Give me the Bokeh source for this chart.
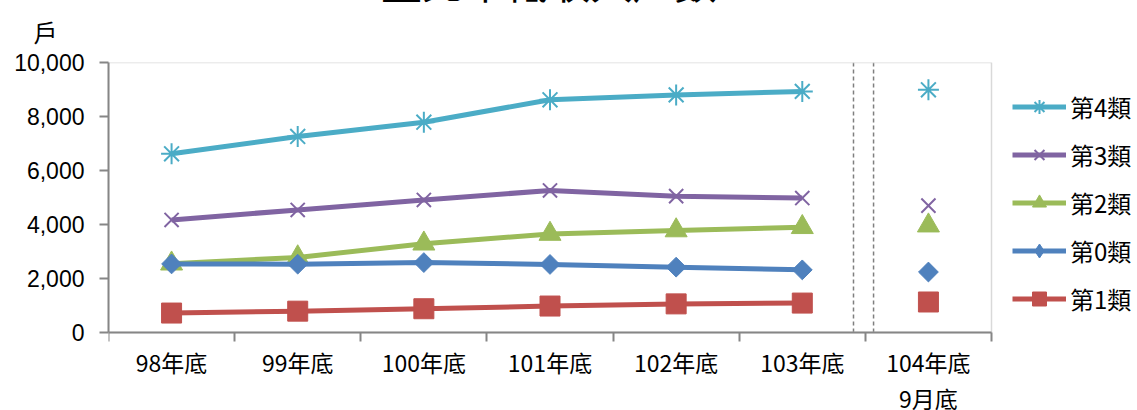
from bokeh.plotting import figure
from bokeh.models import (ColumnDataSource, FixedTicker, NumeralTickFormatter,
                          Legend, LegendItem, Range1d, Title, BoxAnnotation)
from bokeh.embed import file_html
from bokeh.resources import INLINE

# ---- data ----
categories = ["98年底", "99年底", "100年底", "101年底", "102年底", "103年底", "104年底\n9月底"]
series_names = ["第4類", "第3類", "第2類", "第0類", "第1類"]
c4 = [6620, 7260, 7790, 8620, 8800, 8930, 8990]
c3 = [4170, 4540, 4910, 5260, 5050, 4980, 4700]
c2 = [2550, 2780, 3290, 3650, 3780, 3900, 3960]
c0 = [2540, 2530, 2590, 2520, 2420, 2320, 2240]
c1 = [720, 790, 880, 980, 1060, 1090, 1130]
y_ticks = [0, 2000, 4000, 6000, 8000, 10000]
title_text = "臺北市低收入戶數"
unit_text = "戶"

CJK = "Noto Sans CJK TC"
W, H = 1137, 410
LEFT = 108          # left border (y axis)
PLOT_W = 883        # width of the boxed plot area
PLOT_H = 270        # height of the boxed plot area
BOTTOM = 78         # room under the plot area for the category labels
EXTRA_TOP = 40      # room above the visible picture, where the (cut-off) title sits
Y_MAX = 10000
n_cat = len(categories)
SEPARATORS = [5.906, 6.065]   # dashed lines between yearly and monthly data

xs = [i + 0.5 for i in range(n_cat)]
n_line = 6  # the last point (104年9月底) is shown without a connecting line

# the frame also spans the legend area (right) and the label area (below);
# the boxed plot area is x in [0, 7], y in [0, 10000]
x_end = n_cat * (W - LEFT) / PLOT_W
y_start = -Y_MAX * BOTTOM / PLOT_H
p = figure(width=W, height=H + EXTRA_TOP, x_range=Range1d(0, x_end),
           y_range=Range1d(y_start, Y_MAX),
           output_backend="svg", toolbar_location=None,
           min_border_left=LEFT, min_border_right=0,
           min_border_top=62 + EXTRA_TOP, min_border_bottom=0,
           background_fill_color="white", border_fill_color="white")
p.margin = (-EXTRA_TOP, 0, 0, 0)
p.outline_line_color = None
p.xgrid.visible = False
p.ygrid.visible = False

# light grey box around the plot area
p.add_layout(BoxAnnotation(left=0, right=n_cat, bottom=0, top=Y_MAX, fill_alpha=0,
                           line_color="#d9d9d9", line_alpha=1.0, line_width=1.5,
                           level="underlay"))
# dashed separators spanning the plot area height
p.segment(x0=SEPARATORS, y0=[0] * len(SEPARATORS), x1=SEPARATORS,
          y1=[Y_MAX] * len(SEPARATORS), line_color="#7f7f7f", line_width=1.5,
          line_dash="4 3", level="underlay")

# x axis (drawn at y=0, limited to the plot area)
p.xaxis.fixed_location = 0
p.xaxis.bounds = (0, n_cat)
p.xaxis.ticker = FixedTicker(ticks=xs, minor_ticks=list(range(0, n_cat + 1)))
p.xaxis.major_label_overrides = {x: c for x, c in zip(xs, categories)}
p.xaxis.major_tick_line_color = None
p.xaxis.major_tick_out = 0
p.xaxis.major_tick_in = 0
p.xaxis.minor_tick_out = 9
p.xaxis.minor_tick_in = 0
p.xaxis.minor_tick_line_color = "#868686"
p.xaxis.minor_tick_line_width = 2
p.xaxis.axis_line_color = "#868686"
p.xaxis.axis_line_width = 2
p.xaxis.major_label_text_font = CJK
p.xaxis.major_label_text_font_size = "23px"
p.xaxis.major_label_text_line_height = 1.08
p.xaxis.major_label_text_color = "#000000"
p.xaxis.major_label_standoff = 3

# y axis
p.yaxis.bounds = (0, Y_MAX)
p.yaxis.ticker = FixedTicker(ticks=y_ticks)
p.yaxis.formatter = NumeralTickFormatter(format="0,0")
p.yaxis.minor_tick_line_color = None
p.yaxis.major_tick_out = 9
p.yaxis.major_tick_in = 0
p.yaxis.major_tick_line_color = "#868686"
p.yaxis.major_tick_line_width = 2
p.yaxis.axis_line_color = "#868686"
p.yaxis.axis_line_width = 2
p.yaxis.major_label_text_font = "Liberation Sans"
p.yaxis.major_label_text_font_size = "23px"
p.yaxis.major_label_text_color = "#000000"
p.yaxis.major_label_standoff = 15

colors = ["#4BACC6", "#8064A2", "#9BBB59", "#4F81BD", "#C0504D"]
values = [c4, c3, c2, c0, c1]
items = []
for name, col, vals in zip(series_names, colors, values):
    src = ColumnDataSource(dict(x=xs, y=vals))
    line_src = ColumnDataSource(dict(x=xs[:n_line], y=vals[:n_line]))
    ln = p.line("x", "y", source=line_src, line_color=col, line_width=5, line_join="round")
    if name == "第4類":
        sc = p.scatter("x", "y", source=src, marker="asterisk", size=21,
                       line_color=col, line_width=2)
        leg = [ln, sc]
    elif name == "第3類":
        sc = p.scatter("x", "y", source=src, marker="x", size=20,
                       line_color=col, line_width=2)
        leg = [ln, sc]
    elif name == "第2類":
        sc = p.scatter("x", "y", source=src, marker="triangle", size=22,
                       line_color=col, fill_color=col, line_width=1)
        leg = [ln, sc]
    elif name == "第0類":
        sc = p.scatter("x", "y", source=src, marker="square", size=14, angle=0.7853981634,
                       line_color=col, fill_color=col, line_width=1)
        # legends draw markers unrotated, so the legend key uses a (hidden) diamond marker
        key = p.scatter("x", "y", source=src, marker="diamond", size=22,
                        line_color=col, fill_color=col, line_width=1, visible=False)
        leg = [ln, key]
    else:
        sc = p.scatter("x", "y", source=src, marker="square", size=20,
                       line_color=col, fill_color=col, line_width=1)
        leg = [ln, sc]
    items.append(LegendItem(label=name, renderers=leg))

legend = Legend(items=items, location=(904, 16 + BOTTOM), orientation="vertical",
                glyph_width=54, glyph_height=35, label_height=35, spacing=13,
                label_standoff=4, padding=0, margin=0,
                border_line_color=None, background_fill_alpha=0,
                inactive_fill_alpha=0,
                label_text_font=CJK, label_text_font_size="24px",
                label_text_color="#000000")
p.add_layout(legend, "center")

# unit label (inner) and chart title (outer, mostly above the visible area)
p.add_layout(Title(text=unit_text, align="left", offset=-75, vertical_align="bottom",
                   standoff=28, text_font=CJK, text_font_size="24px",
                   text_font_style="normal", text_color="#000000"), "above")
p.add_layout(Title(text=title_text, align="left", offset=272, vertical_align="bottom",
                   standoff=-26, text_font=CJK, text_font_size="42px",
                   text_font_style="normal", text_color="#000000"), "above")

open("out.html", "w").write(file_html(p, INLINE))
